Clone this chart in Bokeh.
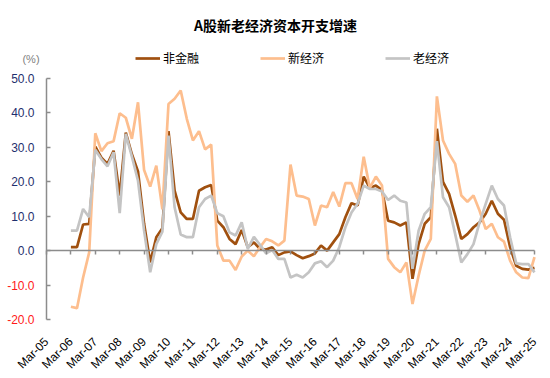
import math
import pandas as pd
from bokeh.plotting import figure
from bokeh.models import (Range1d, FixedTicker, LinearAxis, Legend, LegendItem,
                          Label, NumeralTickFormatter)
from bokeh.embed import file_html
from bokeh.resources import INLINE

# ---- data (quarterly, Mar-06 .. Mar-25) ----
quarters = pd.period_range("2006Q1", "2025Q1", freq="Q")
non_fin = [1.0, 1.0, 7.6, 7.8, 30.2, 27.0, 25.2, 29.0, 16.0, 34.3,
           28.0, 23.0, 7.8, -3.4, 3.9, 6.5, 34.7, 17.4, 11.1, 9.2,
           9.2, 17.4, 18.4, 19.1, 8.7, 6.8, 3.4, 1.9, 6.0, 1.0,
           2.4, 0.5, 0.3, 1.0, -1.3, -0.5, -0.2, -1.3, -2.2, -1.6,
           -0.8, 1.5, 0.0, 2.4, 4.8, 9.7, 13.8, 13.1, 21.5, 18.2,
           18.9, 17.6, 8.7, 8.2, 7.3, 8.2, -8.2, 1.9, 7.8, 9.7,
           35.4, 20.0, 16.5, 10.2, 3.4, 4.8, 6.8, 8.2, 10.7, 14.5,
           10.7, 9.0, 1.0, -4.4, -5.3, -5.5, -5.0]
new_econ = [-16.3, -16.7, -7.8, -0.5, 34.1, 28.9, 31.2, 31.8, 39.9, 38.6,
            32.5, 43.1, 23.4, 18.6, 24.7, 12.0, 42.6, 44.1, 46.5, 38.3,
            32.0, 34.7, 29.4, 30.8, 1.5, -2.9, -2.9, -5.6, -1.7, 0.0,
            -1.6, 1.0, 3.4, 2.7, 1.5, 2.9, 25.0, 16.0, 15.7, 15.0,
            7.3, 13.1, 12.6, 17.0, 12.8, 19.6, 19.6, 15.0, 27.3, 18.2,
            21.5, 18.9, -2.4, -4.8, -6.3, -3.4, -15.5, -7.3, 0.0, 3.4,
            44.8, 32.0, 28.1, 25.2, 16.0, 14.2, 16.0, 11.6, 6.3, 7.8,
            3.9, 2.6, -2.9, -6.3, -7.8, -8.0, -1.9]
old_econ = [5.8, 5.8, 12.1, 9.7, 29.3, 26.6, 24.5, 28.6, 10.9, 33.9,
            27.3, 20.3, 5.8, -6.3, 1.9, 5.5, 33.4, 12.6, 4.7, 3.9,
            3.9, 12.6, 15.0, 16.0, 10.9, 10.0, 5.3, 4.4, 8.2, 0.5,
            4.0, 1.7, -0.8, 0.2, -2.4, -2.4, -7.8, -7.0, -7.8, -6.3,
            -3.7, -3.1, -4.8, -2.9, 1.0, 6.8, 11.1, 13.6, 18.9, 17.9,
            17.9, 17.2, 14.7, 16.0, 14.5, 14.0, -5.3, 5.8, 10.7, 12.6,
            31.8, 15.5, 12.6, 4.8, -3.4, -1.0, 1.9, 8.2, 13.6, 18.9,
            15.0, 13.1, 3.9, -3.7, -3.9, -3.9, -6.3]

tick_years = list(range(2005, 2026))
tick_labels = ["Mar-05", "Mar-06", "Mar-07", "Mar-08", "Mar-09", "Mar-10", "Mar-11",
               "Mar-12", "Mar-13", "Mar-14", "Mar-15", "Mar-16", "Mar-17", "Mar-18",
               "Mar-19", "Mar-20", "Mar-21", "Mar-22", "Mar-23", "Mar-24", "Mar-25"]
y_pos_ticks = [0, 10, 20, 30, 40, 50]
y_neg_ticks = [-20, -10]
y_min, y_max = -20, 50

series_names = ["非金融", "新经济", "老经济"]
title_text = "A股新老经济资本开支增速"

x = [q.year + (q.quarter - 1) / 4 for q in quarters]

# ---- layout (pixels) ----
W, H = 550, 378
PLOT_L, PLOT_R = 46, 534      # pixel x of first / last year tick
PLOT_T, PLOT_B = 78, 319      # pixel y of y_max / y_min
x_first, x_last = tick_years[0], tick_years[-1]
px_per_x = (PLOT_R - PLOT_L) / (x_last - x_first)
px_per_y = (PLOT_B - PLOT_T) / (y_max - y_min)
x_range = Range1d(x_first - PLOT_L / px_per_x, x_last + (W - PLOT_R) / px_per_x)
y_range = Range1d(y_min - (H - PLOT_B) / px_per_y, y_max + PLOT_T / px_per_y)

FONT = "Liberation Sans"
CJK = "Noto Sans CJK SC"
AXIS_GRAY = "#8c8c8c"

p = figure(width=W, height=H, x_range=x_range, y_range=y_range,
           x_axis_location=None, y_axis_location=None,
           output_backend="svg", toolbar_location=None,
           min_border=0, min_border_left=0, min_border_right=0,
           min_border_top=0, min_border_bottom=0)
p.outline_line_color = None
p.grid.visible = False
p.background_fill_color = "white"
p.border_fill_color = "white"

# x axis on the zero line, labels pushed down below the plot bottom
xa = LinearAxis(ticker=FixedTicker(ticks=tick_years), fixed_location=0,
                bounds=(x_first, x_last),
                major_label_overrides={y: l for y, l in zip(tick_years, tick_labels)},
                major_label_orientation=math.pi / 4,
                axis_line_color=AXIS_GRAY, axis_line_width=1.5,
                major_tick_line_color=AXIS_GRAY, major_tick_line_width=1.5,
                major_tick_in=0, major_tick_out=4, minor_tick_line_color=None,
                major_label_standoff=int(round((0 - y_min) * px_per_y)) + 16,
                major_label_text_font=FONT, major_label_text_font_size="12px",
                major_label_text_color="#000000")
p.add_layout(xa, "below")

# left axis: non-negative labels navy
ya = LinearAxis(ticker=FixedTicker(ticks=y_pos_ticks), fixed_location=x_first,
                bounds=(y_min, y_max), formatter=NumeralTickFormatter(format="0.0"),
                axis_line_color=AXIS_GRAY, axis_line_width=1.5,
                major_tick_line_color=AXIS_GRAY, major_tick_line_width=1.5,
                major_tick_in=4, major_tick_out=0, minor_tick_line_color=None,
                major_label_standoff=12, major_label_text_font=FONT,
                major_label_text_font_size="12px", major_label_text_color="#1F2F6E")
p.add_layout(ya, "left")

# left axis: negative labels red
yneg = LinearAxis(ticker=FixedTicker(ticks=y_neg_ticks), fixed_location=x_first,
                  formatter=NumeralTickFormatter(format="0.0"),
                  axis_line_color=None,
                  major_tick_line_color=AXIS_GRAY, major_tick_line_width=1.5,
                  major_tick_in=4, major_tick_out=0, minor_tick_line_color=None,
                  major_label_standoff=12, major_label_text_font=FONT,
                  major_label_text_font_size="12px", major_label_text_color="#FF1A1A")
p.add_layout(yneg, "left")

r1 = p.line(x, non_fin, line_color="#A0500F", line_width=2.7)
r2 = p.line(x, new_econ, line_color="#FDBE8E", line_width=2.7)
r3 = p.line(x, old_econ, line_color="#C4C4C4", line_width=2.7)

legend = Legend(items=[LegendItem(label=series_names[0], renderers=[r1]),
                       LegendItem(label=series_names[1], renderers=[r2]),
                       LegendItem(label=series_names[2], renderers=[r3])],
                orientation="horizontal", location=(135, H - 66),
                glyph_width=25, glyph_height=14, label_height=14, label_standoff=3,
                spacing=61, padding=0, margin=0, border_line_color=None,
                background_fill_alpha=0, label_text_font=CJK, label_text_font_size="12px",
                label_text_color="#000000")
p.add_layout(legend, "center")

p.add_layout(Label(x=W / 2, y=H - 24, x_units="screen", y_units="screen", text=title_text,
                   text_align="center", text_baseline="middle", text_font=CJK,
                   text_font_style="bold", text_font_size="14px", text_color="#000000"))
p.add_layout(Label(x=30.5, y=H - 58, x_units="screen", y_units="screen", text="(%)",
                   text_align="center", text_baseline="middle", text_font=FONT,
                   text_font_size="11px", text_color="#7f7f7f"))

open("out.html", "w").write(file_html(p, INLINE))
